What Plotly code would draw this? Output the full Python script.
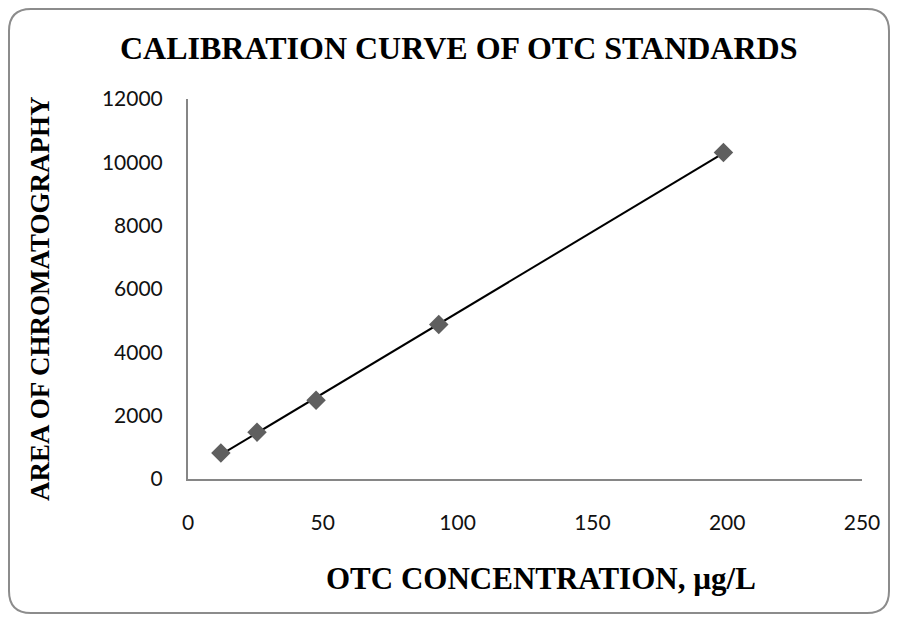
import numpy as np
import plotly.graph_objects as go

# Data
concentration = [12.2, 25.6, 47.5, 93.0, 198.6]
area = [820, 1480, 2490, 4880, 10310]
x_ticks = [0, 50, 100, 150, 200, 250]
y_ticks = [0, 2000, 4000, 6000, 8000, 10000, 12000]
y_tick_text = ["0", "2000", "4000", "6000", "8000", "10000", "12000"]

# page body has an 8px margin; figure coordinates are screen minus 8
OFF = 8
W, H = 898 - OFF, 622 - OFF
L, R, T, B = 180, 36, 91, 143
pw, ph = W - L - R, H - T - B

slope, intercept = np.polyfit(concentration, area, 1)
tx = [min(concentration), max(concentration)]
ty = [slope * v + intercept for v in tx]

fig = go.Figure()
fig.add_trace(go.Scatter(x=tx, y=ty, mode="lines",
                         line=dict(color="black", width=2), hoverinfo="skip"))
fig.add_trace(go.Scatter(x=concentration, y=area, mode="markers",
                         marker=dict(symbol="diamond", size=15, color="#5f5f5f",
                                     line=dict(width=0))))

def px(x):
    return (x - L) / pw

def py(y):
    return (H - B - y) / ph

x0, x1, y0, y1, r = 1, 881, 1, 605, 22
path = (f"M {px(x0+r)},{py(y0)} L {px(x1-r)},{py(y0)} Q {px(x1)},{py(y0)} {px(x1)},{py(y0+r)} "
        f"L {px(x1)},{py(y1-r)} Q {px(x1)},{py(y1)} {px(x1-r)},{py(y1)} "
        f"L {px(x0+r)},{py(y1)} Q {px(x0)},{py(y1)} {px(x0)},{py(y1-r)} "
        f"L {px(x0)},{py(y0+r)} Q {px(x0)},{py(y0)} {px(x0+r)},{py(y0)} Z")
fig.add_shape(type="path", path=path, xref="paper", yref="paper",
              line=dict(color="#8c8c8c", width=2), layer="below")

fig.add_annotation(text="<b>CALIBRATION CURVE OF OTC STANDARDS</b>", xref="paper", yref="paper",
                   x=px(450), y=py(40), xanchor="center", yanchor="middle", showarrow=False,
                   font=dict(family="Liberation Serif", size=32, color="black"))
fig.add_annotation(text="<b>OTC CONCENTRATION, µg/L</b>", xref="paper", yref="paper",
                   x=px(533), y=py(570), xanchor="center", yanchor="middle", showarrow=False,
                   font=dict(family="Liberation Serif", size=31, color="black"))
fig.add_annotation(text="<b>AREA OF CHROMATOGRAPHY</b>", xref="paper", yref="paper",
                   x=px(32), y=py(291), xanchor="center", yanchor="middle", showarrow=False,
                   textangle=-90,
                   font=dict(family="Liberation Serif", size=27, color="black"))

tick_font = dict(family="Lato", size=21, color="#111111")
fig.update_layout(
    width=W, height=H, margin=dict(l=L, r=R, t=T, b=B),
    paper_bgcolor="white", plot_bgcolor="white", showlegend=False,
    xaxis=dict(range=[0, 250], tickvals=x_ticks, showgrid=False, zeroline=False,
               showline=True, linecolor="#868686", linewidth=2, ticks="",
               tickfont=tick_font, ticklabelstandoff=24),
    yaxis=dict(range=[0, 12000], tickvals=y_ticks, ticktext=y_tick_text,
               showgrid=False, zeroline=False,
               showline=True, linecolor="#868686", linewidth=2, ticks="",
               tickfont=tick_font, ticklabelstandoff=19),
)
fig.write_html("out.html")
